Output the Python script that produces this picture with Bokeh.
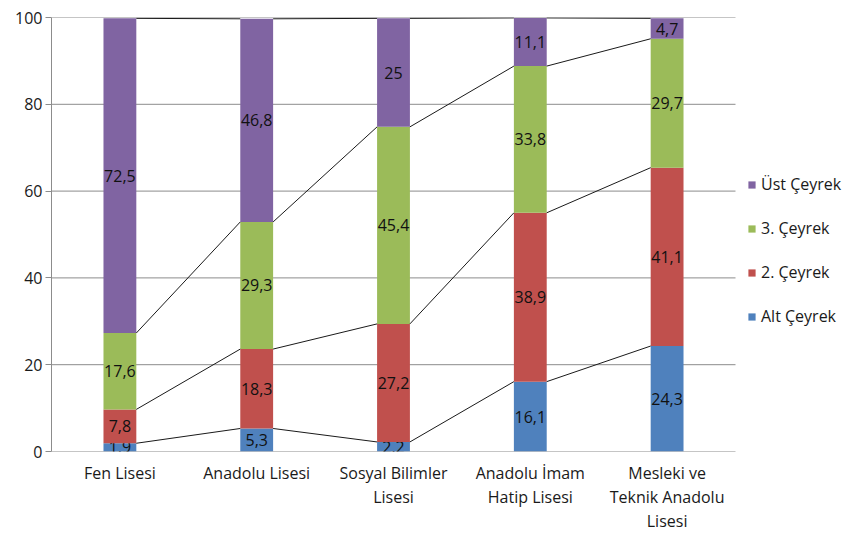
import numpy as np
from bokeh.plotting import figure
from bokeh.models import ColumnDataSource, FixedTicker, Legend, LegendItem, Range1d
from bokeh.core.properties import value
from bokeh.embed import file_html
from bokeh.resources import INLINE

# School types and quartile shares (%)
schools = ["Fen Lisesi", "Anadolu Lisesi", "Sosyal Bilimler\nLisesi",
           "Anadolu İmam\nHatip Lisesi", "Mesleki ve\nTeknik Anadolu\nLisesi"]
alt_ceyrek = [1.9, 5.3, 2.2, 16.1, 24.3]
ikinci_ceyrek = [7.8, 18.3, 27.2, 38.9, 41.1]
ucuncu_ceyrek = [17.6, 29.3, 45.4, 33.8, 29.7]
ust_ceyrek = [72.5, 46.8, 25.0, 11.1, 4.7]

series_names = ["Alt Çeyrek", "2. Çeyrek", "3. Çeyrek", "Üst Çeyrek"]
series_values = [alt_ceyrek, ikinci_ceyrek, ucuncu_ceyrek, ust_ceyrek]
colors = ["#4F81BD", "#C0504D", "#9BBB59", "#8064A2"]
y_ticks = [0, 20, 40, 60, 80, 100]

FONT = "Open Sans"
BAR_W = 0.24
GRID = "#8c8c8c"

# The frame runs to the right edge so the legend can sit inside it;
# the category band is kept at 136.8 px per school.
W, H = 849, 535
LEFT, TOP, BOTTOM = 51, 17, 84
band_px = 136.8
x_end = -0.5 + (W - LEFT) / band_px
n = len(schools)

p = figure(width=W, height=H, output_backend="svg", toolbar_location=None,
           x_range=Range1d(-0.5, x_end), y_range=Range1d(0, 100),
           min_border_left=LEFT, min_border_right=0, min_border_top=TOP,
           min_border_bottom=BOTTOM)
p.outline_line_color = None
p.background_fill_color = "white"
p.border_fill_color = "white"

# Horizontal gridlines across the category area only
p.segment(x0=[-0.5] * len(y_ticks), y0=y_ticks, x1=[n - 0.5] * len(y_ticks),
          y1=y_ticks, line_color=GRID, line_width=1)

x = np.arange(n)
bottom = np.zeros(n)
renderers = []
tops_per_series = []
for name, vals, col in zip(series_names, series_values, colors):
    vals = np.array(vals, dtype=float)
    top = bottom + vals
    src = ColumnDataSource(dict(
        x=x, bottom=bottom, top=top, mid=(bottom + top) / 2,
        label=[f"{v:g}".replace(".", ",") for v in vals]))
    r = p.vbar(x="x", bottom="bottom", top="top", width=BAR_W, source=src,
               fill_color=col, line_color=None)
    p.text(x="x", y="mid", text="label", source=src, text_align="center",
           text_baseline="middle", text_font=value(FONT),
           text_font_size="16px", text_color="#111111")
    renderers.append((name, r))
    tops_per_series.append(top)
    bottom = top

# Series lines joining the top of each segment between neighbouring bars
for top in tops_per_series:
    x0 = x[:-1] + BAR_W / 2
    x1 = x[1:] - BAR_W / 2
    p.segment(x0=x0, y0=top[:-1], x1=x1, y1=top[1:], line_color="#1a1a1a",
              line_width=1)

# Axes
p.xgrid.grid_line_color = None
p.ygrid.grid_line_color = None
p.yaxis.ticker = FixedTicker(ticks=y_ticks)
p.yaxis.axis_line_color = GRID
p.yaxis.major_tick_line_color = GRID
p.yaxis.major_tick_out = 6
p.yaxis.major_tick_in = 0
p.yaxis.minor_tick_line_color = None
p.yaxis.major_label_standoff = 3
p.yaxis.major_label_text_font = FONT
p.yaxis.major_label_text_font_size = "16px"
p.yaxis.major_label_text_color = "#1a1a1a"

p.xaxis.ticker = FixedTicker(ticks=list(range(n)))
p.xaxis.major_label_overrides = {i: s for i, s in enumerate(schools)}
p.xaxis.axis_line_color = None
p.xaxis.major_tick_line_color = None
p.xaxis.minor_tick_line_color = None
p.xaxis.major_tick_out = 0
p.xaxis.major_tick_in = 0
p.xaxis.major_label_standoff = 10
p.xaxis.major_label_text_font = FONT
p.xaxis.major_label_text_font_size = "16px"
p.xaxis.major_label_text_color = "#1a1a1a"
p.xaxis.major_label_text_line_height = 1.1

legend = Legend(
    items=[LegendItem(label=nm, renderers=[r]) for nm, r in reversed(renderers)],
    location=(696, 124), orientation="vertical",
    glyph_width=9, glyph_height=9, label_height=20, spacing=22,
    padding=0, margin=0, border_line_color=None, background_fill_alpha=0,
    label_text_font=FONT, label_text_font_size="16px",
    label_text_color="#1a1a1a", label_standoff=5)
p.add_layout(legend)

open("out.html", "w").write(file_html(p, INLINE))
